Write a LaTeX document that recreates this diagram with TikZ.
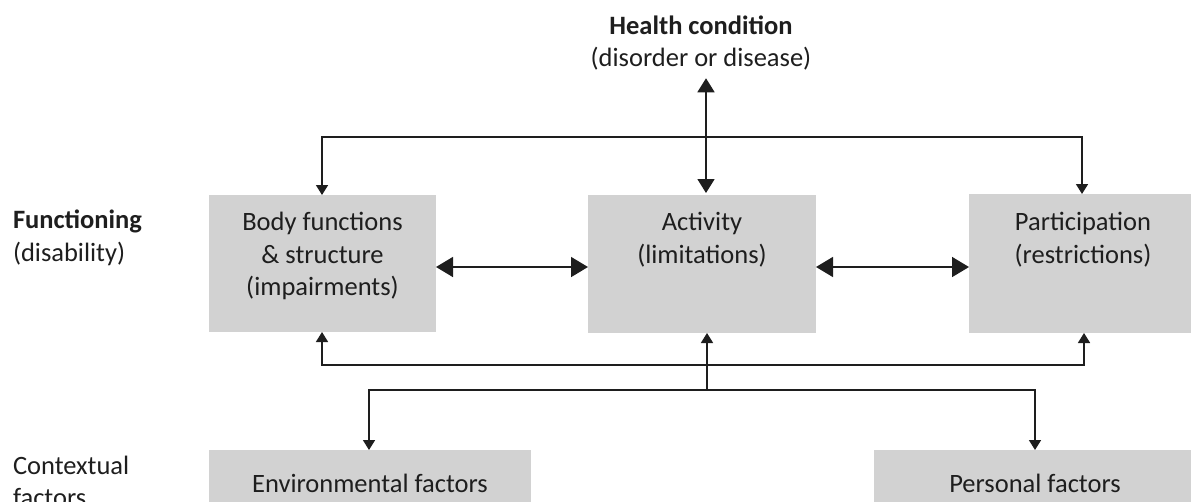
\documentclass[tikz,border=0pt]{standalone}
\usepackage{fontspec}
\setmainfont{Carlito}
\usetikzlibrary{arrows.meta}
\definecolor{boxgray}{RGB}{210,210,210}
\definecolor{ink}{RGB}{30,30,30}
\newcommand{\boxtext}[4]{\parbox[c][#2][t]{#1}{\centering\vspace*{#3}#4\par}}
\begin{document}
\begin{tikzpicture}[x=1pt,y=-1pt,
  every node/.style={font=\fontsize{26.5pt}{32.5pt}\selectfont, text=ink, inner sep=0pt, outer sep=0pt},
  box/.style={fill=boxgray},
  conn/.style={draw=ink, line width=1.6pt},
  bigboth/.style={conn, {Triangle[length=17pt,width=20pt]}-{Triangle[length=17pt,width=20pt]}},
  medboth/.style={conn, {Triangle[length=14pt,width=17pt]}-{Triangle[length=14pt,width=17pt]}},
  smallboth/.style={conn, {Triangle[length=10pt,width=12pt]}-{Triangle[length=10pt,width=12pt]}},
  smallend/.style={conn, -{Triangle[length=10pt,width=12pt]}}
]
\useasboundingbox (0,0) rectangle (1191,501);
\clip (0,0) rectangle (1191,501);

% boxes
\node[box] (body) at (322.5,263.5) {\boxtext{227pt}{137pt}{12.75pt}{\strut Body functions\\\& structure\\(impairments)}};
\node[box] (act) at (702,264) {\boxtext{228pt}{138pt}{12.75pt}{\strut Activity\\(limitations)}};
\node[box] (part) at (1083,263.5) {\boxtext{228pt}{139pt}{13.75pt}{\strut Participation\\(restrictions)}};
\node[box] (env) at (370,490) {\boxtext{322pt}{80pt}{19.25pt}{\strut Environmental factors}};
\node[box] (pers) at (1035,490) {\boxtext{322pt}{80pt}{19.25pt}{\strut Personal factors}};

% labels
\node[align=center, anchor=north] (health) at (701,11.25) {\strut\textbf{Health condition}\\\strut(disorder or disease)};
\node[align=left, anchor=north west] (func) at (13,206) {\strut\textbf{Functioning}\\(disability)};
\node[align=left, anchor=north west] (ctx) at (13,451.25) {\strut Contextual\\factors};

% connector coordinates
\coordinate (tl) at (322,137);
\coordinate (tr) at (1082,137);
\coordinate (hx) at (706,0);
\coordinate (my) at (0,267);
\coordinate (bl) at (322,365);
\coordinate (br) at (1084,365);
\coordinate (el) at (369,390);
\coordinate (er) at (1035,390);
\coordinate (ax) at (707,390);

% top feedback line
\draw[smallboth] (body.north -| tl) -- (tl) -- (tr) -- (part.north -| tr);
% health condition <-> activity
\draw[medboth, shorten <=2pt, shorten >=2pt] (health.south -| hx) -- (act.north -| hx);
% horizontal links
\draw[bigboth] (body.east |- my) -- (act.west |- my);
\draw[bigboth] (act.east |- my) -- (part.west |- my);
% bottom line to body and participation
\draw[smallboth] (body.south -| bl) -- (bl) -- (br) -- (part.south -| br);
% contextual factors line
\draw[smallboth] (env.north -| el) -- (el) -- (er) -- (pers.north -| er);
\draw[smallend] (ax) -- (act.south -| ax);
\end{tikzpicture}
\end{document}
